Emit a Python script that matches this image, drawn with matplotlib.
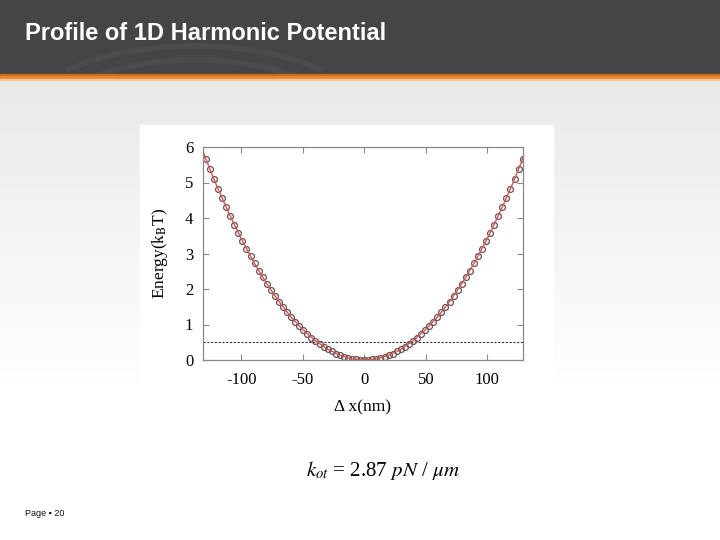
import matplotlib
matplotlib.use("Agg")
import matplotlib.pyplot as plt
import numpy as np
from matplotlib.patches import Rectangle, Arc

plt.rcParams["mathtext.fontset"] = "stix"

# measured points (nm, kT)
dx = [-128.7, -125.4, -122.1, -118.8, -115.5, -112.2, -108.9, -105.6, -102.3, -99.0,
      -95.7, -92.4, -89.1, -85.8, -82.5, -79.2, -75.9, -72.6, -69.3, -66.0,
      -62.7, -59.4, -56.1, -52.8, -49.5, -46.2, -42.9, -39.6, -36.3, -33.0,
      -29.7, -26.4, -23.1, -19.8, -16.5, -13.2, -9.9, -6.6, -3.3, 0.0,
      3.3, 6.6, 9.9, 13.2, 16.5, 19.8, 23.1, 26.4, 29.7, 33.0,
      36.3, 39.6, 42.9, 46.2, 49.5, 52.8, 56.1, 59.4, 62.7, 66.0,
      69.3, 72.6, 75.9, 79.2, 82.5, 85.8, 89.1, 92.4, 95.7, 99.0,
      102.3, 105.6, 108.9, 112.2, 115.5, 118.8, 122.1, 125.4, 128.7]
energy = [5.67, 5.38, 5.10, 4.83, 4.56, 4.31, 4.06, 3.81, 3.58, 3.35,
          3.13, 2.92, 2.72, 2.52, 2.33, 2.15, 1.97, 1.80, 1.64, 1.49,
          1.34, 1.21, 1.08, 0.95, 0.84, 0.73, 0.63, 0.54, 0.45, 0.37,
          0.30, 0.24, 0.18, 0.13, 0.09, 0.06, 0.03, 0.02, 0.00, 0.00,
          0.00, 0.02, 0.03, 0.06, 0.09, 0.13, 0.18, 0.24, 0.30, 0.37,
          0.45, 0.54, 0.63, 0.73, 0.84, 0.95, 1.08, 1.21, 1.34, 1.49,
          1.64, 1.80, 1.97, 2.15, 2.33, 2.52, 2.72, 2.92, 3.13, 3.35,
          3.58, 3.81, 4.06, 4.31, 4.56, 4.83, 5.10, 5.38, 5.67]

# harmonic fit
fit_x = [-131, -125, -120, -110, -100, -90, -80, -70, -60, -50, -40, -30, -20, -10, 0,
         10, 20, 30, 40, 50, 60, 70, 80, 90, 100, 110, 120, 125, 129]
fit_e = [5.87, 5.34, 4.92, 4.14, 3.42, 2.77, 2.19, 1.68, 1.23, 0.86, 0.55, 0.31, 0.14, 0.03, 0.00,
         0.03, 0.14, 0.31, 0.55, 0.86, 1.23, 1.68, 2.19, 2.77, 3.42, 4.14, 4.92, 5.34, 5.69]

thermal_level = 0.5
xticks = [-100, -50, 0, 50, 100]
yticks = [0, 1, 2, 3, 4, 5, 6]

title = "Profile of 1D Harmonic Potential"
page = "Page \u25aa 20"

W, H = 720, 540
fig = plt.figure(figsize=(7.2, 5.4), dpi=100)

# slide background
bg = fig.add_axes([0, 0, 1, 1])
bg.set_xlim(0, W)
bg.set_ylim(H, 0)
bg.axis("off")
grad = np.linspace(0, 1, 256).reshape(-1, 1)
grad = np.clip(grad * 1.5, 0, 1)
bg.imshow(np.dstack([0.915 + 0.085 * grad] * 3), extent=[0, W, H, 79], aspect="auto", zorder=0)
bg.add_patch(Rectangle((0, 0), W, 74, color="#444547", zorder=1))
for cy, a, b in [(118, 170, 72), (124, 150, 64)]:
    bg.add_patch(Arc((195, cy), 2 * a, 2 * b, theta1=200, theta2=340,
                     color="white", lw=4, alpha=0.035, zorder=2))
bg.add_patch(Rectangle((0, 73.5), W, 2.5, color="#c9661c", zorder=3))
bg.add_patch(Rectangle((0, 76), W, 2.5, color="#e8852e", zorder=3))
bg.add_patch(Rectangle((0, 78.5), W, 1.5, color="#f5c79b", zorder=3))
bg.text(25, 34, title, color="white", fontsize=17, fontweight="bold",
        family="Liberation Sans", va="center", ha="left", zorder=4)
bg.text(25, 514, page, fontsize=6.5, family=["Liberation Sans", "DejaVu Sans"],
        va="center", ha="left", color="#111111")
bg.add_patch(Rectangle((140, 125), 413, 289, color="white", zorder=1))
bg.text(383, 470, r"$k_{ot}$ = 2.87 $pN$ / $\mu m$", fontsize=15, family="Liberation Serif",
        va="center", ha="center", color="black")

serif = "Liberation Serif"

ax = fig.add_axes([203 / W, 1 - 360 / H, 320 / W, 213 / H])
ax.plot(fit_x, fit_e, color="#d25555", lw=1.0, zorder=3)
ax.plot(dx, energy, "o", ms=4.2, mfc="none", mec="#6b5050", mew=0.9, zorder=2)
ax.axhline(thermal_level, color="#333333", lw=0.8, ls=(0, (2, 1.4)), zorder=1)

ax.set_xlim(-131, 129)
ax.set_ylim(0, 6)
ax.set_xticks(xticks)
ax.set_yticks(yticks)
ax.set_xticklabels([str(v) for v in xticks], family=serif, fontsize=12)
ax.set_yticklabels([str(v) for v in yticks], family=serif, fontsize=12)
ax.tick_params(axis="x", pad=9)
ax.tick_params(axis="y", pad=7)
ax.tick_params(direction="in", length=4, color="#888888", top=True, right=True)
for s in ax.spines.values():
    s.set_color("#888888")
    s.set_linewidth(0.9)
ax.set_xlabel("\u0394 x(nm)", family=serif, fontsize=12.5, labelpad=8)
ax.set_ylabel(r"Energy(k$_{\rm B}$T)", family=serif, fontsize=12.5, labelpad=11)

fig.savefig("out.png", dpi=100)
